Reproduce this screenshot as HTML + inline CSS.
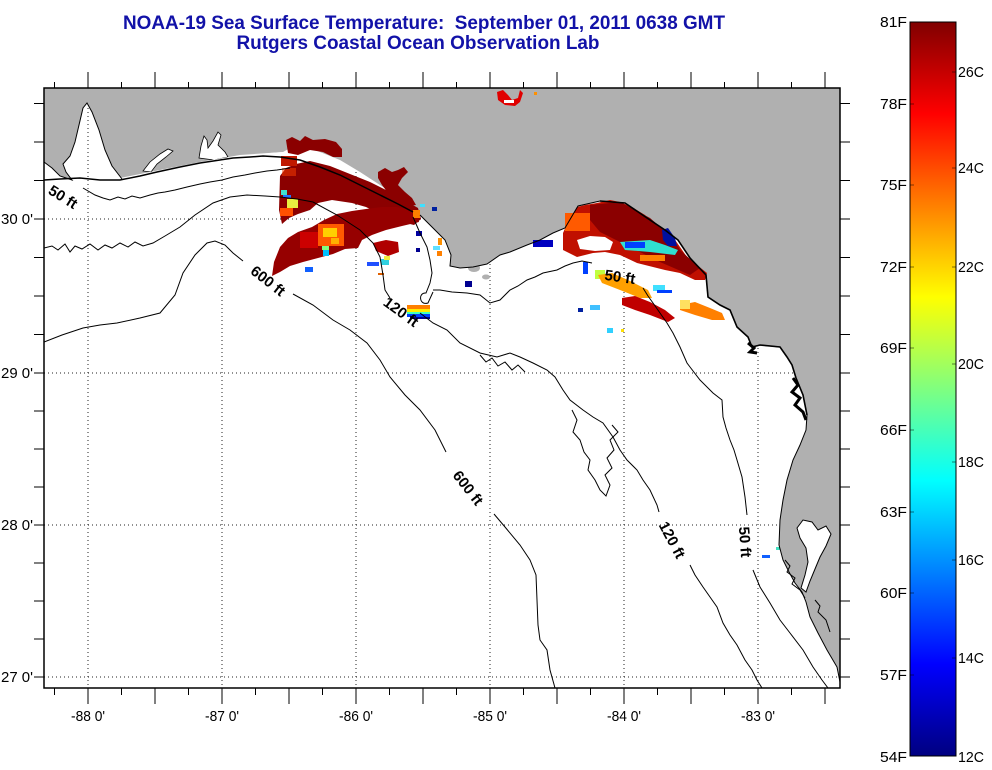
<!DOCTYPE html>
<html><head><meta charset="utf-8"><style>
html,body{margin:0;padding:0;background:#fff;}
svg{display:block;}
text{font-family:"Liberation Sans",Arial,sans-serif;}
</style></head><body>
<svg width="992" height="770" viewBox="0 0 992 770" xmlns="http://www.w3.org/2000/svg">
<defs>
<linearGradient id="jet" x1="0" y1="0" x2="0" y2="1">
<stop offset="0" stop-color="#800000"/>
<stop offset="0.125" stop-color="#ff0000"/>
<stop offset="0.375" stop-color="#ffff00"/>
<stop offset="0.625" stop-color="#00ffff"/>
<stop offset="0.875" stop-color="#0000ff"/>
<stop offset="1" stop-color="#000080"/>
</linearGradient>
<clipPath id="plot"><rect x="44" y="88" width="796" height="600"/></clipPath>
</defs>
<rect width="992" height="770" fill="#fff"/>

<!-- Title -->
<text x="424" y="29" text-anchor="middle" font-size="19" font-weight="bold" fill="#1212a8" textLength="602" lengthAdjust="spacingAndGlyphs" style="white-space:pre">NOAA-19 Sea Surface Temperature:  September 01, 2011 0638 GMT</text>
<text x="418" y="49" text-anchor="middle" font-size="19" font-weight="bold" fill="#1212a8" textLength="363" lengthAdjust="spacingAndGlyphs">Rutgers Coastal Ocean Observation Lab</text>

<g clip-path="url(#plot)">
<!-- grid -->
<g stroke="#222" stroke-width="1" stroke-dasharray="1 3">
<path d="M88,88V688M222,88V688M356,88V688M490,88V688M624,88V688M758,88V688"/>
<path d="M44,219H840M44,373H840M44,525H840M44,677H840"/>
</g>

<!-- land -->
<path fill="#b0b0b0" d="M44,88 L840,88 L840,682 L837,667 L827,650 L818,633 L810,617 L806,602 L802,592 L795,583 L789,572 L783,560 L779,545 L780,520 L783,500 L787,480 L793,460 L800,445 L806,430 L807,415 L803,395 L796,378 L792,365 L787,357 L780,347 L760,345 L752,347 L748,337 L737,327 L730,310 L720,305 L708,297 L706,275 L690,258 L678,240 L665,230 L650,220 L625,203 L600,201 L578,206 L565,228 L553,233 L540,240 L527,245 L510,252 L500,255 L487,264 L473,267 L460,268 L450,266 L451,255 L445,240 L433,228 L420,215 L413,208 L398,197 L380,185 L360,172 L340,160 L315,150 L292,147 L283,152 L270,153 L240,156 L200,163 L160,171 L150,173 L122,179 L112,166 L105,150 L99,130 L92,112 L87,103 L83,108 L79,125 L75,142 L70,156 L63,164 L66,172 L72,180 L60,176 L52,168 L44,162 Z"/>
<!-- bays -->
<path fill="#fff" stroke="#000" stroke-width="1" d="M797,528 L803,520 L812,522 L818,530 L826,526 L831,534 L826,546 L820,557 L815,569 L810,581 L806,592 L801,588 L805,575 L808,562 L806,548 L800,538 Z"/>
<path fill="#fff" stroke="#000" stroke-width="0.8" d="M143,171 L150,162 L160,154 L168,149 L173,151 L166,157 L157,164 L151,172 Z"/>
<path fill="#fff" stroke="#000" stroke-width="0.8" d="M199,158 L201,146 L204,136 L207,140 L208,148 L213,141 L218,132 L221,135 L218,145 L225,152 L228,157 L214,160 Z"/>
<path fill="#fff" d="M120,178 L160,170 L200,162 L240,155 L283,152 L283,155 L240,158 L200,165 L160,173 L122,180 Z"/>
<ellipse cx="474" cy="268" rx="6" ry="4" fill="#b0b0b0"/>
<ellipse cx="486" cy="277" rx="4" ry="2.5" fill="#b0b0b0"/>

<!-- data region A -->
<path fill="#8b0000" d="M286,140 L292,137 L300,141 L305,136 L313,140 L325,139 L336,142 L342,149 L342,157 L333,157 L323,152 L310,150 L298,155 L288,153 Z"/>
<path fill="#8b0000" d="M378,172 L385,168 L392,172 L398,170 L404,167 L408,172 L402,178 L398,185 L405,192 L412,198 L416,205 L408,206 L398,200 L388,193 L382,185 L378,178 Z"/>
<path fill="#8b0000" d="M280,176 L286,168 L296,164 L310,161 L330,166 L350,174 L370,182 L390,192 L406,201 L418,208 L421,219 L414,225 L402,222 L390,216 L378,213 L366,207 L352,203 L332,200 L318,203 L310,210 L298,214 L289,218 L282,224 L279,210 Z"/>
<path fill="#960000" d="M417,212 L419,222 L402,226 L386,230 L372,235 L362,240 L358,248 L345,249 L333,254 L318,258 L303,262 L290,266 L280,272 L272,276 L274,262 L280,247 L288,238 L298,232 L312,227 L324,220 L337,214 L352,211 L366,209 L382,207 L396,207 L408,209 Z"/>
<rect x="281" y="156" width="16" height="10" fill="#c01800"/>
<rect x="282" y="168" width="14" height="8" fill="#ff4000" opacity="0.5"/>
<rect x="281" y="190" width="6" height="5" fill="#40e0d0"/>
<rect x="283" y="195" width="8" height="3" fill="#2070ff"/>
<rect x="287" y="199" width="11" height="9" fill="#e8f040"/>
<rect x="280" y="208" width="13" height="8" fill="#ff5000"/>
<rect x="300" y="232" width="18" height="16" fill="#cc0000"/>
<rect x="318" y="224" width="26" height="22" fill="#ff5a00"/>
<rect x="323" y="228" width="14" height="9" fill="#ffd000"/>
<rect x="331" y="238" width="8" height="6" fill="#ffb000"/>
<rect x="322" y="246" width="7" height="4" fill="#80ff80"/>
<rect x="323" y="250" width="6" height="6" fill="#00c0ff"/>
<rect x="305" y="267" width="8" height="5" fill="#1060ff"/>
<path fill="#b00000" d="M373,243 L386,240 L398,242 L399,252 L388,256 L376,251 Z"/>
<rect x="381" y="259" width="8" height="6" fill="#30d0e0"/>
<rect x="384" y="256" width="6" height="4" fill="#f0f040"/>
<rect x="367" y="262" width="12" height="4" fill="#2050ff"/>
<rect x="378" y="273" width="6" height="2" fill="#e06000"/>
<rect x="407" y="305" width="23" height="4" fill="#ff8000"/>
<rect x="407" y="309" width="23" height="3" fill="#ffee00"/>
<rect x="407" y="312" width="23" height="2" fill="#40ffc0"/>
<rect x="407" y="314" width="23" height="3" fill="#0040ff"/>
<rect x="410" y="317" width="20" height="2" fill="#000090"/>
<rect x="413" y="210" width="7" height="8" fill="#ff8000"/>
<rect x="420" y="204" width="5" height="3" fill="#40e0ff"/>
<rect x="432" y="207" width="5" height="4" fill="#0020a0"/>
<rect x="438" y="238" width="4" height="7" fill="#ff9000"/>
<rect x="416" y="231" width="6" height="5" fill="#0000a0"/>
<rect x="416" y="248" width="4" height="4" fill="#000090"/>
<rect x="433" y="246" width="7" height="4" fill="#60e0ff"/>
<rect x="437" y="251" width="5" height="5" fill="#ff8000"/>
<rect x="465" y="281" width="7" height="6" fill="#000090"/>

<!-- top bit -->
<path fill="#e00000" d="M497,92 L503,90 L508,95 L512,100 L518,98 L520,90 L523,93 L520,102 L515,106 L505,105 L498,100 Z"/>
<rect x="504" y="100" width="10" height="3" fill="#fff"/>
<rect x="534" y="92" width="3" height="3" fill="#ff9000"/>

<!-- data region B -->
<path fill="#c01000" d="M563,233 L568,222 L577,207 L585,205 L597,203 L610,200 L620,202 L632,207 L645,215 L653,223 L663,228 L673,237 L680,247 L687,257 L697,265 L707,273 L705,280 L695,280 L680,273 L665,270 L653,267 L637,263 L620,255 L605,252 L593,253 L577,257 L563,250 Z"/>
<path fill="#8b0000" d="M590,205 L620,202 L650,218 L672,237 L680,250 L700,268 L690,275 L660,262 L640,252 L620,242 L600,232 L590,220 Z"/>
<rect x="565" y="213" width="25" height="18" fill="#ff5a00"/>
<path fill="#fff" d="M577,240 L590,236 L605,237 L613,242 L610,250 L595,251 L580,249 Z"/>
<path fill="#30e0d0" d="M620,242 L650,240 L665,245 L678,250 L675,255 L650,252 L625,250 Z"/>
<rect x="625" y="242" width="20" height="6" fill="#0040ff"/>
<path fill="#0010a0" d="M662,230 L668,228 L675,238 L677,246 L668,246 L663,240 Z"/>
<rect x="640" y="255" width="25" height="6" fill="#ff8000"/>
<rect x="595" y="270" width="10" height="9" fill="#c0ff40"/>
<path fill="#ffa000" d="M598,275 L612,273 L628,280 L648,290 L652,298 L640,298 L620,290 L602,283 Z"/>
<path fill="#c00000" d="M622,298 L635,296 L650,302 L665,310 L675,318 L668,322 L650,315 L635,310 L622,305 Z"/>
<path fill="#ff8000" d="M680,305 L695,302 L710,308 L722,313 L725,320 L712,320 L695,315 L680,310 Z"/>
<rect x="680" y="300" width="10" height="9" fill="#ffe060"/>
<rect x="653" y="285" width="12" height="6" fill="#40e0ff"/>
<rect x="657" y="290" width="15" height="3" fill="#0040ff"/>
<rect x="533" y="240" width="20" height="7" fill="#0000c0"/>
<rect x="583" y="262" width="5" height="12" fill="#0040ff"/>
<rect x="590" y="305" width="10" height="5" fill="#40c0ff"/>
<rect x="578" y="308" width="5" height="4" fill="#0020a0"/>
<rect x="607" y="328" width="6" height="5" fill="#30d0ff"/>
<rect x="621" y="329" width="3" height="3" fill="#ffe000"/>
<rect x="762" y="555" width="8" height="3" fill="#1060ff"/>
<rect x="776" y="547" width="4" height="3" fill="#40e0c0"/>

<!-- coastline strokes -->
<g fill="none" stroke="#000">
<path stroke-width="1" d="M840,682 L837,667 L827,650 L818,633 L810,617 L806,602 L802,592 L795,583 L789,572 L783,560 L779,545 L780,520 L783,500 L787,480 L793,460 L800,445 L806,430 L807,415 L803,395 L796,378 L792,365 L787,357 L780,347 L760,345 L752,347 L748,337 L737,327 L730,310 L720,305 L708,297 L706,275 L690,258 L678,240 L665,230 L650,220 L625,203 L600,201 L578,206 L565,228 L553,233 L540,240 L527,245 L510,252 L500,255 L487,264 L473,267 L460,268 L450,266 L451,255 L445,240 L433,228 L420,215"/>
<path stroke-width="1.6" d="M600,201 L625,203 L650,220 L665,230 L678,240 L690,258 L706,275 L708,297 L720,305 L730,310 L737,327 L748,337 L752,347 L760,345 L780,347 L787,357 L792,365 L796,378 L803,395 L807,415"/>
<path stroke-width="1" d="M44,162 L52,168 L60,176 L72,180 L66,172 L63,164 L70,156 L75,142 L79,125 L83,108 L87,103 L92,112 L99,130 L105,150 L112,166 L122,179"/>
<path stroke-width="1.5" d="M44,180 L60,179 L80,178 L100,180 L120,180 L140,176 L157,172 L180,167 L200,163 L220,160 L233,158 L250,157 L263,156 L280,157 L300,160 L320,167 L340,175 L360,185 L380,195 L398,204 L413,212"/>
<path stroke-width="3" d="M793,378 L798,385 L792,392 L800,398 L795,405 L803,412 L806,420"/>
<path stroke-width="3" d="M748,343 L754,348 L750,352 L757,353"/>
<path stroke-width="1" d="M785,560 L790,566 L787,572 L795,578 L792,584 L800,590 L805,598"/>
<path stroke-width="1" d="M815,600 L820,606 L818,612 L826,620 L830,632"/>

<!-- contours -->
<path stroke-width="1" d="M83,188 L95,195 L103,198 L110,200 L118,197 L125,199 L132,196 L140,198 L150,195 L158,193 L165,192 L175,190 L187,187 L200,184 L210,182 L222,180 L233,177 L245,175 L255,173 L267,171 L277,170 L290,168"/>
<path stroke-width="1" d="M44,248 L52,246 L58,250 L65,244 L70,252 L75,246 L82,249 L90,244 L98,250 L105,245 L112,248 L120,243 L128,247 L135,242 L143,246 L153,243 L165,236 L180,227 L195,215 L213,203 L230,197 L247,195 L265,196 L280,197 L297,199 L313,202 L337,215 L360,230 L373,243 L380,257 L383,275 L385,290 L390,298"/>
<path stroke-width="1" d="M420,313 L433,323 L447,330 L460,343 L480,353 L497,357 L510,353 L520,357 L533,363 L547,370 L555,377 L563,390 L570,400 L583,410 L593,417 L603,423 L613,437 L620,450 L627,460 L637,470 L643,480 L650,490 L657,505 L659,512"/>
<path stroke-width="1" d="M690,565 L695,575 L703,587 L710,597 L717,607 L723,623 L730,635 L737,645 L745,660 L752,670 L757,680 L762,688"/>
<path stroke-width="1" d="M44,342 L62,335 L83,328 L100,325 L117,323 L140,318 L160,313 L175,295 L183,273 L195,255 L207,243 L215,241 L225,245 L233,253 L243,261"/>
<path stroke-width="1" d="M293,294 L313,305 L333,320 L350,330 L367,343 L380,360 L390,377 L405,395 L420,410 L435,430 L446,452"/>
<path stroke-width="1" d="M494,514 L505,527 L520,545 L530,560 L536,575 L537,600 L538,625 L540,640 L547,650 L550,670 L555,688"/>
<path stroke-width="1" d="M413,217 L420,233 L427,247 L430,260 L432,273 L430,283 L426,293 C418,292 419,306 428,303 L433,292"/>
<path stroke-width="1" d="M433,290 L440,290 L452,292 L467,293 L480,295 L490,303 L500,300 L510,290 L518,286 L527,280 L535,277 L543,273 L557,270 L565,266 L573,263 L582,261 L592,263"/>
<path stroke-width="1" d="M643,288 L648,296 L653,303 L660,313 L667,323 L673,333 L680,347 L687,363 L690,367 L700,380 L713,393 L722,400 L723,417 L726,428 L730,440 L734,450 L737,460 L742,477 L745,497 L747,515"/>
<path stroke-width="1" d="M753,570 L760,587 L770,603 L780,620 L790,633 L803,650 L813,667 L822,680 L828,688"/>
<path stroke-width="1" d="M572,410 L577,420 L573,432 L580,440 L584,452 L590,460 L588,470 L595,480 L600,490 L606,496 L610,485 L605,475 L612,468 L607,458 L614,450 L610,440 L618,432 L612,425"/>
<path stroke-width="1" d="M480,355 L486,362 L492,358 L498,366 L505,362 L512,370 L518,365 L525,372"/>
</g>

<!-- contour labels -->
<g font-size="15" font-weight="bold" fill="#000" text-anchor="middle">
<text transform="translate(63,197) rotate(32)" dy="5">50 ft</text>
<text transform="translate(268,281) rotate(38)" dy="5">600 ft</text>
<text transform="translate(401,312) rotate(36)" dy="5">120 ft</text>
<text transform="translate(620,277) rotate(8)" dy="5">50 ft</text>
<text transform="translate(468,488) rotate(52)" dy="5">600 ft</text>
<text transform="translate(672,540) rotate(62)" dy="5">120 ft</text>
<text transform="translate(745,542) rotate(86)" dy="5">50 ft</text>
</g>
</g>

<!-- axes frame -->
<rect x="44" y="88" width="796" height="600" fill="none" stroke="#000" stroke-width="1.5"/>
<g stroke="#000" stroke-width="1">
<path d="M54.5,88V82M88,88V72M121.5,88V82M155,88V72M188.5,88V82M222,88V72M255.5,88V82M289,88V72M322.5,88V82M356,88V72M389.5,88V82M423,88V72M456.5,88V82M490,88V72M523.5,88V82M557,88V72M590.5,88V82M624,88V72M657.5,88V82M691,88V72M724.5,88V82M758,88V72M791.5,88V82M825,88V72"/>
<path d="M54.5,688V695M88,688V704M121.5,688V695M155,688V704M188.5,688V695M222,688V704M255.5,688V695M289,688V704M322.5,688V695M356,688V704M389.5,688V695M423,688V704M456.5,688V695M490,688V704M523.5,688V695M557,688V704M590.5,688V695M624,688V704M657.5,688V695M691,688V704M724.5,688V695M758,688V704M791.5,688V695M825,688V704"/>
<path d="M34,103.5H44M34,142H44M34,180.5H44M34,219H44M34,257.5H44M34,296H44M34,334.5H44M34,373H44M34,411H44M34,449H44M34,487H44M34,525H44M34,563H44M34,601H44M34,639H44M34,677H44"/>
<path d="M840,103.5H850M840,142H850M840,180.5H850M840,219H850M840,257.5H850M840,296H850M840,334.5H850M840,373H850M840,411H850M840,449H850M840,487H850M840,525H850M840,563H850M840,601H850M840,639H850M840,677H850"/>
</g>

<!-- axis labels -->
<g font-size="15" fill="#000">
<text x="33" y="224" text-anchor="end" textLength="32" lengthAdjust="spacingAndGlyphs">30 0'</text>
<text x="33" y="378" text-anchor="end" textLength="32" lengthAdjust="spacingAndGlyphs">29 0'</text>
<text x="33" y="530" text-anchor="end" textLength="32" lengthAdjust="spacingAndGlyphs">28 0'</text>
<text x="33" y="682" text-anchor="end" textLength="32" lengthAdjust="spacingAndGlyphs">27 0'</text>
<text x="88" y="721" text-anchor="middle" textLength="34" lengthAdjust="spacingAndGlyphs">-88 0'</text>
<text x="222" y="721" text-anchor="middle" textLength="34" lengthAdjust="spacingAndGlyphs">-87 0'</text>
<text x="356" y="721" text-anchor="middle" textLength="34" lengthAdjust="spacingAndGlyphs">-86 0'</text>
<text x="490" y="721" text-anchor="middle" textLength="34" lengthAdjust="spacingAndGlyphs">-85 0'</text>
<text x="624" y="721" text-anchor="middle" textLength="34" lengthAdjust="spacingAndGlyphs">-84 0'</text>
<text x="758" y="721" text-anchor="middle" textLength="34" lengthAdjust="spacingAndGlyphs">-83 0'</text>
</g>

<!-- colorbar -->
<rect x="910" y="22" width="46" height="734" fill="url(#jet)" stroke="#000" stroke-width="1"/>
<g stroke="#000" stroke-opacity="0.5" stroke-width="1">
<path d="M910,104H914M910,185H914M910,267H914M910,348H914M910,430H914M910,512H914M910,593H914M910,675H914"/>
<path d="M952,72H956M952,168H956M952,267H956M952,364H956M952,462H956M952,560H956M952,658H956"/>
</g>
<g font-size="15" fill="#000">
<text x="907" y="27" text-anchor="end" textLength="27" lengthAdjust="spacingAndGlyphs">81F</text>
<text x="907" y="109" text-anchor="end" textLength="27" lengthAdjust="spacingAndGlyphs">78F</text>
<text x="907" y="190" text-anchor="end" textLength="27" lengthAdjust="spacingAndGlyphs">75F</text>
<text x="907" y="272" text-anchor="end" textLength="27" lengthAdjust="spacingAndGlyphs">72F</text>
<text x="907" y="353" text-anchor="end" textLength="27" lengthAdjust="spacingAndGlyphs">69F</text>
<text x="907" y="435" text-anchor="end" textLength="27" lengthAdjust="spacingAndGlyphs">66F</text>
<text x="907" y="517" text-anchor="end" textLength="27" lengthAdjust="spacingAndGlyphs">63F</text>
<text x="907" y="598" text-anchor="end" textLength="27" lengthAdjust="spacingAndGlyphs">60F</text>
<text x="907" y="680" text-anchor="end" textLength="27" lengthAdjust="spacingAndGlyphs">57F</text>
<text x="907" y="762" text-anchor="end" textLength="27" lengthAdjust="spacingAndGlyphs">54F</text>
<text x="958" y="77" textLength="26" lengthAdjust="spacingAndGlyphs">26C</text>
<text x="958" y="173" textLength="26" lengthAdjust="spacingAndGlyphs">24C</text>
<text x="958" y="272" textLength="26" lengthAdjust="spacingAndGlyphs">22C</text>
<text x="958" y="369" textLength="26" lengthAdjust="spacingAndGlyphs">20C</text>
<text x="958" y="467" textLength="26" lengthAdjust="spacingAndGlyphs">18C</text>
<text x="958" y="565" textLength="26" lengthAdjust="spacingAndGlyphs">16C</text>
<text x="958" y="663" textLength="26" lengthAdjust="spacingAndGlyphs">14C</text>
<text x="958" y="762" textLength="26" lengthAdjust="spacingAndGlyphs">12C</text>
</g>
</svg>
</body></html>
